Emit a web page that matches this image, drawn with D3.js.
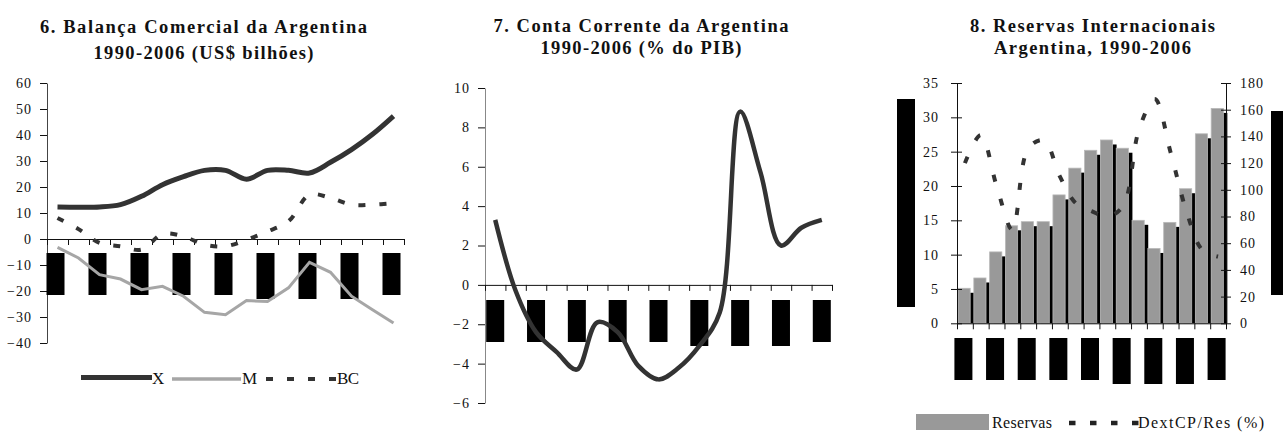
<!DOCTYPE html>
<html>
<head>
<meta charset="utf-8">
<script src="https://cdn.jsdelivr.net/npm/d3@7"></script>
<style>
  body { margin: 0; background: #fff; }
  svg { display: block; font-family: "Liberation Serif", "Times New Roman", serif; }
</style>
</head>
<body>
<svg width="1283" height="432"></svg>
<script>
// data

var years = [1990, 1991, 1992, 1993, 1994, 1995, 1996, 1997, 1998, 1999,
             2000, 2001, 2002, 2003, 2004, 2005, 2006];

// panel 6 - trade balance (US$ bn)
var exportsX  = [12.3, 12.2, 12.3, 13.2, 16.4, 20.9, 24.0, 26.4, 26.4, 23.0, 26.4, 26.4, 25.4, 29.5, 34.4, 40.3, 47.3];
var importsM  = [-3.2, -7.3, -13.7, -15.4, -19.5, -18.2, -22.0, -28.2, -29.1, -23.7, -24.0, -18.8, -9.0, -12.8, -22.0, -27.2, -32.3];
var balanceBC = [8.1, 3.8, -1.5, -2.8, -4.1, 1.9, 1.0, -2.2, -2.8, -0.3, 2.9, 6.8, 17.0, 15.8, 13.2, 13.2, 13.8];

// panel 7 - current account (% GDP)
var currentAccount = [3.3, -0.3, -2.4, -3.4, -4.3, -1.9, -2.4, -4.1, -4.8, -4.2, -3.1, -1.4, 8.8, 5.7, 2.0, 2.9, 3.3];

// panel 8 - reserves (US$ bn) and short term external debt / reserves (%)
var reserves   = [5.1, 6.6, 10.4, 14.2, 14.8, 14.8, 18.7, 22.6, 25.2, 26.7, 25.5, 15.0, 10.9, 14.7, 19.6, 27.6, 31.3];
var dextRatio  = [120, 141, 103, 70, 131, 137, 110, 90, 84, 80, 88, 145, 168, 128, 84, 55, 50];

// year labels on the x axes came out as solid black blocks in the source
var labelYears = [1990, 1992, 1994, 1996, 1998, 2000, 2002, 2004, 2006];
var tallLabels = [2000, 2002, 2004];

var ticks1 = [-40, -30, -20, -10, 0, 10, 20, 30, 40, 50, 60];
var ticks2 = [-6, -4, -2, 0, 2, 4, 6, 8, 10];
var ticks3L = [0, 5, 10, 15, 20, 25, 30, 35];
var ticks3R = [0, 20, 40, 60, 80, 100, 120, 140, 160, 180];


var svg = d3.select("svg");
var dark = "#333333", mid = "#a6a6a6", barGrey = "#999999";

function title(cx, lines) {
  lines.forEach(function(l) {
    svg.append("text")
      .attr("x", cx).attr("y", l.y)
      .attr("text-anchor", "middle")
      .attr("font-size", 18.5).attr("font-weight", "bold")
      .attr("textLength", l.w).attr("lengthAdjust", "spacing")
      .attr("fill", "#111")
      .text(l.t);
  });
}

// style a d3 axis for serif labels
function styleAxis(g, color) {
  g.attr("font-family", null).attr("font-size", 14);
  g.selectAll(".tick text").attr("fill", "#111").attr("letter-spacing", "1px");
  g.selectAll("line").attr("stroke", "#111");
  g.select(".domain").attr("stroke", color || "#111");
}

// bottom axis with ticks between the categories
function catAxis(x0, x1, y) {
  var s = d3.scaleLinear().domain([0, years.length]).range([x0, x1]);
  var g = svg.append("g")
    .attr("transform", "translate(0," + y + ")")
    .call(d3.axisBottom(s).tickValues(d3.range(years.length + 1)).tickSize(6).tickSizeOuter(0).tickFormat(""));
  styleAxis(g);
}

// black blocks where the rotated year labels should be
function labelBlocks(x, top, shift) {
  svg.append("g").selectAll("rect")
    .data(labelYears)
    .enter().append("rect")
    .attr("x", d => x(d) + x.bandwidth() / 2 - 9 + shift)
    .attr("y", top)
    .attr("width", 18)
    .attr("height", d => tallLabels.indexOf(d) >= 0 ? 46 : 42)
    .attr("fill", "#000");
}


// ---------- panel 6 ----------
title(203.5, [
  {t: "6. Balança Comercial da Argentina", y: 33, w: 327},
  {t: "1990-2006 (US$ bilhões)", y: 59, w: 220}
]);

var x1 = d3.scaleBand().domain(years).range([47, 404]);
var y1 = d3.scaleLinear().domain([-40, 60]).range([343, 83]);

var ax1 = svg.append("g")
  .attr("transform", "translate(47,0)")
  .call(d3.axisLeft(y1).tickValues(ticks1).tickSize(7).tickPadding(8).tickSizeOuter(0));
styleAxis(ax1, "#444");

catAxis(47, 404, y1(0));
labelBlocks(x1, 253, -2);

var cx1 = (d, i) => x1(years[i]) + x1.bandwidth() / 2;

svg.append("path")
  .datum(importsM)
  .attr("fill", "none").attr("stroke", mid).attr("stroke-width", 3)
  .attr("d", d3.line().x(cx1).y(d => y1(d)));

svg.append("path")
  .datum(balanceBC)
  .attr("fill", "none").attr("stroke", dark).attr("stroke-width", 4)
  .attr("stroke-dasharray", "7,14")
  .attr("d", d3.line().x(cx1).y(d => y1(d)).curve(d3.curveCatmullRom.alpha(0.5)));

svg.append("path")
  .datum(exportsX)
  .attr("fill", "none").attr("stroke", dark).attr("stroke-width", 5)
  .attr("d", d3.line().x(cx1).y(d => y1(d)).curve(d3.curveCatmullRom.alpha(0.5)));

// legend 6
var leg1 = svg.append("g").attr("font-size", 17).attr("fill", "#111");
leg1.append("line").attr("x1", 81).attr("x2", 152).attr("y1", 377.5).attr("y2", 377.5)
  .attr("stroke", dark).attr("stroke-width", 5);
leg1.append("text").attr("x", 152).attr("y", 384).attr("textLength", 11).text("X");
leg1.append("line").attr("x1", 172).attr("x2", 241).attr("y1", 379).attr("y2", 379)
  .attr("stroke", mid).attr("stroke-width", 3.3);
leg1.append("text").attr("x", 242).attr("y", 384).attr("textLength", 13).text("M");
leg1.append("line").attr("x1", 266).attr("x2", 337).attr("y1", 379).attr("y2", 379)
  .attr("stroke", dark).attr("stroke-width", 4).attr("stroke-dasharray", "7,14");
leg1.append("text").attr("x", 337).attr("y", 384).attr("textLength", 22).text("BC");


// ---------- panel 7 ----------
title(641, [
  {t: "7. Conta Corrente da Argentina", y: 32, w: 295},
  {t: "1990-2006  (% do PIB)", y: 54, w: 201}
]);

var x2 = d3.scaleBand().domain(years).range([485, 832]);
var y2 = d3.scaleLinear().domain([-6, 10]).range([403, 88]);

var ax2 = svg.append("g")
  .attr("transform", "translate(485,0)")
  .call(d3.axisLeft(y2).tickValues(ticks2).tickSize(7).tickPadding(8).tickSizeOuter(0));
styleAxis(ax2, "#888");

catAxis(485, 832, y2(0));
labelBlocks(x2, 300, 0);

svg.append("path")
  .datum(currentAccount)
  .attr("fill", "none").attr("stroke", dark).attr("stroke-width", 4.5)
  .attr("d", d3.line()
    .x((d, i) => x2(years[i]) + x2.bandwidth() / 2)
    .y(d => y2(d))
    .curve(d3.curveCatmullRom.alpha(0.5)));


// ---------- panel 8 ----------
title(1092.5, [
  {t: "8. Reservas Internacionais", y: 32, w: 245},
  {t: "Argentina, 1990-2006", y: 54, w: 197}
]);

var x3 = d3.scaleBand().domain(years).range([957, 1226]);
var y3 = d3.scaleLinear().domain([0, 35]).range([323.3, 83]);
var y3r = d3.scaleLinear().domain([0, 180]).range([323.3, 83]);

var barW = x3.bandwidth() * 0.77;
var bars = svg.append("g").selectAll("g")
  .data(reserves)
  .enter().append("g");

// drop shadow behind each bar
bars.append("rect")
  .attr("x", (d, i) => x3(years[i]) + 1 + 4)
  .attr("y", d => y3(d) + 4.5)
  .attr("width", barW)
  .attr("height", d => y3(0) - y3(d) - 4.5)
  .attr("fill", "#000");

bars.append("rect")
  .attr("x", (d, i) => x3(years[i]) + 1)
  .attr("y", d => y3(d))
  .attr("width", barW)
  .attr("height", d => y3(0) - y3(d))
  .attr("fill", barGrey)
  .attr("stroke", "#b8b8b8").attr("stroke-width", 0.8);

var ax3 = svg.append("g")
  .attr("transform", "translate(957,0)")
  .call(d3.axisLeft(y3).tickValues(ticks3L).tickSize(6).tickPadding(12).tickSizeOuter(0));
styleAxis(ax3);
ax3.selectAll(".tick line").attr("x2", -6).attr("x1", 5);

var ax3r = svg.append("g")
  .attr("transform", "translate(1226,0)")
  .call(d3.axisRight(y3r).tickValues(ticks3R).tickSize(5).tickPadding(9).tickSizeOuter(0));
styleAxis(ax3r);
ax3r.selectAll(".tick line").attr("x1", -5);

catAxis(957, 1226, y3(0));
labelBlocks(x3, 338, -1.5);

svg.append("path")
  .datum(dextRatio)
  .attr("fill", "none").attr("stroke", dark).attr("stroke-width", 4)
  .attr("stroke-dasharray", "7,18")
  .attr("d", d3.line()
    .x((d, i) => x3(years[i]) + x3.bandwidth() / 2)
    .y(d => y3r(d))
    .curve(d3.curveCatmullRom.alpha(0.5)));

// the two rotated axis titles also came out as blocks
svg.append("rect").attr("x", 897).attr("y", 99).attr("width", 18).attr("height", 208).attr("fill", "#000");
svg.append("rect").attr("x", 1271).attr("y", 111).attr("width", 18).attr("height", 184).attr("fill", "#000");

// legend 8
var leg3 = svg.append("g").attr("font-size", 16).attr("fill", "#111");
leg3.append("rect").attr("x", 916).attr("y", 414).attr("width", 73).attr("height", 16).attr("fill", barGrey);
leg3.append("text").attr("x", 992).attr("y", 427.5).attr("textLength", 60).text("Reservas");
leg3.append("line").attr("x1", 1069).attr("x2", 1139).attr("y1", 423).attr("y2", 423)
  .attr("stroke", "#222").attr("stroke-width", 4.5).attr("stroke-dasharray", "6.5,14.5");
leg3.append("text").attr("x", 1138).attr("y", 427.5).attr("textLength", 126).text("DextCP/Res (%)");
</script>
</body>
</html>
